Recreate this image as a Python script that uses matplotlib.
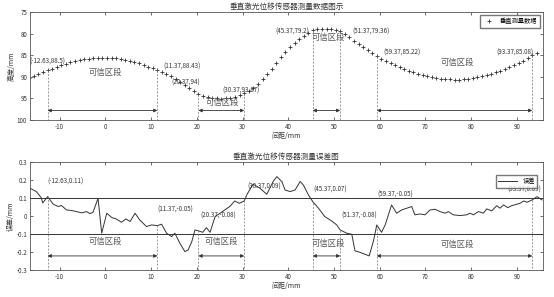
import numpy as np
import matplotlib
matplotlib.use('Agg')
import matplotlib.pyplot as plt

plt.rcParams['font.family'] = ['Noto Sans CJK SC', 'DejaVu Sans']
plt.rcParams['axes.unicode_minus'] = False

# measured height, one point per mm
x_top = [-16.63 + k for k in range(112)]
h_top = [90.4, 89.9, 89.4, 88.9, 88.5, 88.1, 87.7, 87.3, 87.0, 86.7,
         86.4, 86.2, 86.0, 85.8, 85.7, 85.6, 85.55, 85.55, 85.6, 85.7,
         85.85, 86.05, 86.3, 86.6, 86.9, 87.3, 87.7, 88.0, 88.43, 88.9,
         89.4, 89.9, 90.5, 91.1, 91.8, 92.5, 93.3, 94.0, 94.4, 94.7,
         94.9, 95.0, 95.05, 95.0, 94.85, 94.6, 94.3, 93.87, 93.3, 92.6,
         91.7, 90.6, 89.4, 88.1, 86.8, 85.5, 84.3, 83.2, 82.2, 81.3,
         80.5, 79.8, 79.2, 78.95, 78.85, 78.85, 78.95, 79.1, 79.36, 80.1,
         80.9, 81.7, 82.5, 83.2, 83.9, 84.6, 85.22, 85.8, 86.3, 86.8,
         87.3, 87.8, 88.2, 88.6, 89.0, 89.35, 89.65, 89.9, 90.1, 90.3,
         90.45, 90.55, 90.6, 90.65, 90.65, 90.6, 90.5, 90.35, 90.15, 89.9,
         89.6, 89.3, 88.95, 88.6, 88.2, 87.8, 87.3, 86.8, 86.3, 85.7,
         85.08, 84.6]

# error curve
x_err = [-16.5, -15.1, -14.0, -13.7, -12.63, -12.1, -11.4, -10.3, -9.6, -8.5,
         -7.4, -6.3, -5.2, -4.1, -3.4, -2.7, -1.6, -0.8, 0.3, 1.4,
         2.4, 3.5, 4.5, 5.4, 6.5, 7.5, 9.0, 10.1, 11.37, 12.3,
         13.4, 14.5, 15.2, 16.3, 17.4, 18.1, 18.9, 19.6, 20.37, 21.3,
         22.1, 22.9, 24.0, 25.1, 26.1, 27.2, 28.3, 29.3, 30.37, 31.0,
         32.3, 33.8, 35.3, 36.7, 37.5, 38.6, 39.3, 40.4, 41.5, 42.6,
         43.3, 44.4, 45.37, 46.6, 48.0, 49.5, 50.6, 51.37, 52.8, 53.9,
         54.6, 55.7, 56.8, 57.7, 58.6, 59.37, 60.4, 61.2, 62.6, 63.7,
         64.8, 66.3, 67.0, 67.7, 68.8, 69.9, 71.0, 72.1, 73.2, 74.3,
         75.0, 76.1, 77.6, 79.0, 79.8, 80.5, 81.6, 82.7, 83.4, 84.5,
         85.6, 86.3, 87.1, 88.0, 88.9, 90.0, 90.7, 91.5, 92.2, 93.37,
         94.4, 95.5]
e_err = [0.154, 0.135, 0.1, 0.072, 0.107, 0.089, 0.065, 0.052, 0.058, 0.033,
         0.03, 0.024, 0.017, 0.024, 0.013, 0.02, 0.098, -0.096, 0.015, -0.009,
         -0.017, -0.035, -0.017, -0.031, 0.015, -0.022, -0.059, -0.05, -0.054, -0.046,
         -0.096, -0.115, -0.096, -0.152, -0.198, -0.189, -0.143, -0.078, -0.083, -0.091,
         -0.065, -0.091, -0.004, 0.015, 0.033, 0.052, 0.083, 0.07, 0.083, 0.12,
         0.176, 0.154, 0.12, 0.191, 0.218, 0.191, 0.144, 0.135, 0.144, 0.191,
         0.172, 0.117, 0.079, 0.043, -0.004, -0.028, -0.05, -0.078, -0.096, -0.102,
         -0.194, -0.202, -0.213, -0.222, -0.143, -0.05, -0.091, -0.05, 0.061, 0.015,
         0.033, 0.046, 0.052, 0.006, 0.011, 0.006, 0.033, 0.037, 0.024, 0.015,
         0.024, 0.006, 0.002, 0.006, 0.015, 0.006, 0.024, 0.015, 0.039, 0.028,
         0.057, 0.043, 0.061, 0.046, 0.057, 0.065, 0.07, 0.083, 0.076, 0.089,
         0.107, 0.089]

# marked points and trusted ranges
mark_x = [-12.63, 11.37, 20.37, 30.37, 45.37, 51.37, 59.37, 93.37]
mark_h = [88.5, 88.43, 94.0, 93.87, 79.2, 79.36, 85.22, 85.08]
mark_e = [0.11, -0.05, -0.08, 0.09, 0.07, -0.08, -0.05, 0.09]
ranges = [(-12.63, 11.37), (20.37, 30.37), (45.37, 51.37), (59.37, 93.37)]
range_text = '可信区段'

top_lbl = ['(-12.63,88.5)', '(11.37,88.43)', '(20.37,94)', '(30.37,93.87)',
           '(45.37,79.2)', '(51.37,79.36)', '(59.37,85.22)', '(93.37,85.08)']
top_lbl_pos = [(-12.7, 86.6, 'center'), (12.6, 87.6, 'left'), (20.7, 91.3, 'right'),
               (29.6, 93.2, 'center'), (44.7, 79.5, 'right'), (54.0, 79.6, 'left'),
               (60.8, 84.5, 'left'), (93.7, 84.5, 'right')]
top_txt_pos = [(0.0, 88.9), (25.6, 96.0), (48.7, 81.0), (77.0, 86.6)]

bot_lbl = ['(-12.63,0.11)', '(11.37,-0.05)', '(20.37,-0.08)', '(30.37,0.09)',
           '(45.37,0.07)', '(51.37,-0.08)', '(59.37,-0.05)', '(93.37,0.09)']
bot_lbl_pos = [(-12.6, 0.19, 'left'), (11.3, 0.035, 'left'), (20.7, 0.0, 'left'),
               (31.0, 0.165, 'left'), (45.4, 0.145, 'left'), (51.7, 0.0, 'left'),
               (59.6, 0.117, 'left'), (95.3, 0.144, 'right')]
bot_txt_pos = [(0.0, -0.143), (25.4, -0.143), (48.7, -0.15), (77.0, -0.155)]

c = '#333333'
fig = plt.figure(figsize=(5.54, 2.97), dpi=100)
ax1 = fig.add_axes([0.054, 0.596, 0.926, 0.364])
ax2 = fig.add_axes([0.054, 0.091, 0.926, 0.364])

# top plot
ax1.plot(x_top, h_top, '+', color=c, ms=3, mew=0.6, label='垂直测量数据')
for xv, hv in zip(mark_x, mark_h):
    ax1.plot([xv, xv], [hv, 100], ls=(0, (3, 2)), color='#777777', lw=0.5)
for a, b in ranges:
    ax1.annotate('', xy=(a, 97.8), xytext=(b, 97.8),
                 arrowprops=dict(arrowstyle='<|-|>', color=c, lw=0.6,
                                 mutation_scale=5, shrinkA=0, shrinkB=0))
for s, (xv, yv, ha) in zip(top_lbl, top_lbl_pos):
    ax1.text(xv, yv, s, fontsize=4.5, ha=ha, va='center', color=c)
for xv, yv in top_txt_pos:
    ax1.text(xv, yv, range_text, fontsize=6, ha='center', va='center', color='#555555')
ax1.set_xlim(-16.5, 95.7)
ax1.set_ylim(100, 75)
ax1.set_yticks([75, 80, 85, 90, 95, 100])
ax1.set_xticks(range(-10, 100, 10))
ax1.set_title('垂直激光位移传感器测量数据图示', fontsize=5.5, pad=2, color=c)
ax1.set_xlabel('间距/mm', fontsize=5, labelpad=1, color=c)
ax1.set_ylabel('高度/mm', fontsize=5, labelpad=1, color=c)
ax1.legend(loc='upper right', fontsize=4.5, frameon=True, fancybox=False,
           edgecolor='#555555', handlelength=2, borderpad=0.4)

# bottom plot
ax2.plot(x_err, e_err, '-', color=c, lw=0.7, label='误差')
ax2.axhline(0.1, color=c, lw=0.7)
ax2.axhline(-0.1, color=c, lw=0.7)
for xv, ev in zip(mark_x, mark_e):
    ax2.plot([xv, xv], [ev, -0.3], ls=(0, (3, 2)), color='#777777', lw=0.5)
for a, b in ranges:
    ax2.annotate('', xy=(a, -0.222), xytext=(b, -0.222),
                 arrowprops=dict(arrowstyle='<|-|>', color=c, lw=0.6,
                                 mutation_scale=5, shrinkA=0, shrinkB=0))
for s, (xv, yv, ha) in zip(bot_lbl, bot_lbl_pos):
    ax2.text(xv, yv, s, fontsize=4.5, ha=ha, va='center', color=c)
for xv, yv in bot_txt_pos:
    ax2.text(xv, yv, range_text, fontsize=6, ha='center', va='center', color='#555555')
ax2.set_xlim(-16.5, 95.7)
ax2.set_ylim(-0.3, 0.3)
ax2.set_yticks([-0.3, -0.2, -0.1, 0, 0.1, 0.2, 0.3])
ax2.set_yticklabels(['-0.3', '-0.2', '-0.1', '0', '0.1', '0.2', '0.3'])
ax2.set_xticks(range(-10, 100, 10))
ax2.set_title('垂直激光位移传感器测量误差图', fontsize=5.5, pad=2, color=c)
ax2.set_xlabel('间距/mm', fontsize=5, labelpad=1, color=c)
ax2.set_ylabel('误差/mm', fontsize=5, labelpad=1, color=c)
ax2.legend(loc='upper right', fontsize=4.5, frameon=True, fancybox=False,
           edgecolor='#555555', handlelength=3, borderpad=0.4,
           bbox_to_anchor=(0.995, 0.91))

for ax in (ax1, ax2):
    ax.tick_params(direction='in', top=True, right=True, labelsize=4.5,
                   length=2, width=0.5, pad=2, colors=c)
    for sp in ax.spines.values():
        sp.set_linewidth(0.6)
        sp.set_color('#555555')

fig.savefig('out.png', dpi=100)
